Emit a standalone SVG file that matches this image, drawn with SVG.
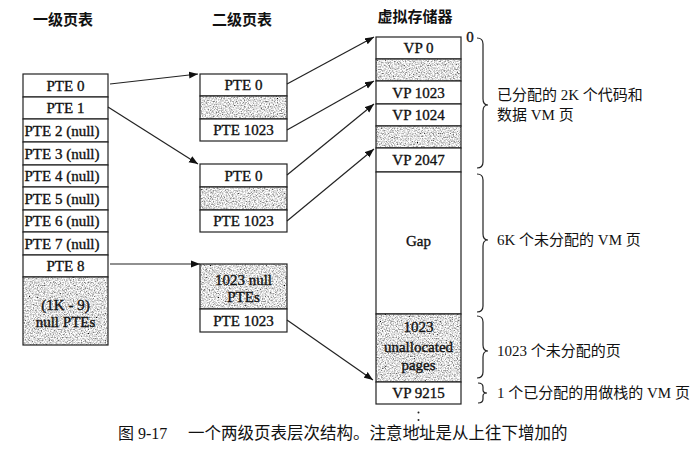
<svg xmlns="http://www.w3.org/2000/svg" width="698" height="467" viewBox="0 0 698 467">
<style>
.cell{fill:#fff;stroke:#222;stroke-width:1.2}
.box{fill:none;stroke:#222;stroke-width:1.2}
.lbl{font-family:"Liberation Serif","Noto Sans CJK SC",serif;font-size:15px;fill:#111;stroke:#111;stroke-width:0.35;text-anchor:middle}
.cjk{font-family:"Liberation Serif","Noto Sans CJK SC",serif;font-size:15px;fill:#111}
.hdr{font-family:"Noto Sans CJK SC",sans-serif;font-size:15px;fill:#111;text-anchor:middle;font-weight:bold}
.conn{stroke:#222;stroke-width:1.2;fill:none;marker-end:url(#ah)}
.brace{stroke:#222;stroke-width:1.2;fill:none}
</style>
<defs>
<marker id="ah" markerWidth="10" markerHeight="8" refX="9" refY="4" orient="auto" markerUnits="userSpaceOnUse">
<path d="M0,0.5 L9,4 L0,7.5 Z" fill="#111"/>
</marker>
<filter id="speckle" filterUnits="objectBoundingBox" x="0" y="0" width="1" height="1">
<feTurbulence type="fractalNoise" baseFrequency="0.75" numOctaves="3" seed="7" result="t"/>
<feColorMatrix in="t" type="matrix" values="2.0 0 0 0 -0.26  2.0 0 0 0 -0.26  2.0 0 0 0 -0.26  0 0 0 0 1" result="g"/>
<feComposite in="g" in2="SourceGraphic" operator="in"/>
</filter>
</defs>
<rect width="698" height="467" fill="#fff"/>

<g id="headers">
<text class="hdr" x="63" y="25">一级页表</text>
<text class="hdr" x="242" y="25">二级页表</text>
<text class="hdr" x="415" y="22">虚拟存储器</text>
</g>

<g id="level1-table">
<rect class="cell" x="23" y="74" width="85" height="23"/>
<text class="lbl" x="65.5" y="90.5">PTE 0</text>
<rect class="cell" x="23" y="97" width="85" height="22"/>
<text class="lbl" x="65.5" y="113">PTE 1</text>
<rect class="cell" x="23" y="119" width="85" height="23"/>
<text class="lbl" x="62" y="135.5">PTE 2 (null)</text>
<rect class="cell" x="23" y="142" width="85" height="23"/>
<text class="lbl" x="62" y="158.5">PTE 3 (null)</text>
<rect class="cell" x="23" y="165" width="85" height="22"/>
<text class="lbl" x="62" y="181">PTE 4 (null)</text>
<rect class="cell" x="23" y="187" width="85" height="23"/>
<text class="lbl" x="62" y="203.5">PTE 5 (null)</text>
<rect class="cell" x="23" y="210" width="85" height="22"/>
<text class="lbl" x="62" y="226">PTE 6 (null)</text>
<rect class="cell" x="23" y="232" width="85" height="23"/>
<text class="lbl" x="62" y="248.5">PTE 7 (null)</text>
<rect class="cell" x="23" y="255" width="85" height="22"/>
<text class="lbl" x="65.5" y="271">PTE 8</text>
<rect x="23" y="277" width="85" height="68" fill="#bbb" filter="url(#speckle)"/>
<rect class="box" x="23" y="277" width="85" height="68"/>
<text class="lbl" x="65.5" y="310">(1K - 9)</text>
<text class="lbl" x="65.5" y="327">null PTEs</text>
</g>

<g id="level2-table-1">
<rect class="cell" x="200" y="74" width="87" height="22"/>
<text class="lbl" x="243.5" y="90">PTE 0</text>
<rect x="200" y="96" width="87" height="23" fill="#bbb" filter="url(#speckle)"/>
<rect class="box" x="200" y="96" width="87" height="23"/>
<rect class="cell" x="200" y="119" width="87" height="22"/>
<text class="lbl" x="243.5" y="135">PTE 1023</text>
</g>

<g id="level2-table-2">
<rect class="cell" x="200" y="164" width="87" height="23"/>
<text class="lbl" x="243.5" y="180.5">PTE 0</text>
<rect x="200" y="187" width="87" height="23" fill="#bbb" filter="url(#speckle)"/>
<rect class="box" x="200" y="187" width="87" height="23"/>
<rect class="cell" x="200" y="210" width="87" height="22"/>
<text class="lbl" x="243.5" y="226">PTE 1023</text>
</g>

<g id="level2-table-3">
<rect x="200" y="264" width="87" height="45" fill="#bbb" filter="url(#speckle)"/>
<rect class="box" x="200" y="264" width="87" height="45"/>
<text class="lbl" x="243.5" y="285">1023 null</text>
<text class="lbl" x="243.5" y="302">PTEs</text>
<rect class="cell" x="200" y="309" width="87" height="23"/>
<text class="lbl" x="243.5" y="325.5">PTE 1023</text>
</g>

<g id="virtual-memory">
<rect class="cell" x="376" y="37" width="85" height="22"/>
<text class="lbl" x="418.5" y="53">VP 0</text>
<rect x="376" y="59" width="85" height="22" fill="#bbb" filter="url(#speckle)"/>
<rect class="box" x="376" y="59" width="85" height="22"/>
<rect class="cell" x="376" y="81" width="85" height="23"/>
<text class="lbl" x="418.5" y="97.5">VP 1023</text>
<rect class="cell" x="376" y="104" width="85" height="22"/>
<text class="lbl" x="418.5" y="120">VP 1024</text>
<rect x="376" y="126" width="85" height="22" fill="#bbb" filter="url(#speckle)"/>
<rect class="box" x="376" y="126" width="85" height="22"/>
<rect class="cell" x="376" y="148" width="85" height="24"/>
<text class="lbl" x="418.5" y="165">VP 2047</text>
<rect class="cell" x="376" y="172" width="85" height="142"/>
<text class="lbl" x="418.5" y="246">Gap</text>
<rect x="376" y="314" width="85" height="68" fill="#bbb" filter="url(#speckle)"/>
<rect class="box" x="376" y="314" width="85" height="68"/>
<text class="lbl" x="418.5" y="332">1023</text>
<text class="lbl" x="418.5" y="352">unallocated</text>
<text class="lbl" x="418.5" y="370">pages</text>
<rect class="cell" x="376" y="382" width="85" height="22"/>
<text class="lbl" x="418.5" y="398">VP 9215</text>
<circle cx="418.5" cy="412.5" r="1" fill="#222"/>
<circle cx="418.5" cy="420" r="1" fill="#222"/>
<circle cx="418.5" cy="427.5" r="1" fill="#222"/>
<text class="lbl" x="470" y="42">0</text>
</g>

<g id="braces">
<path class="brace" d="M477,38 Q483,38 483,44 L483,99 Q483,105 488,105 Q483,105 483,111 L483,162 Q483,168 477,168"/>
<path class="brace" d="M477,174 Q483,174 483,180 L483,234 Q483,240 488,240 Q483,240 483,246 L483,306 Q483,312 477,312"/>
<path class="brace" d="M477,316 Q483,316 483,322 L483,345 Q483,351 488,351 Q483,351 483,357 L483,372 Q483,378 477,378"/>
<path class="brace" d="M478,383 Q483,383 483,387 L483,390 Q483,393 487,393 Q483,393 483,396 L483,399 Q483,403 478,403"/>
</g>

<g id="annotations">
<text class="cjk" x="497" y="100">已分配的 2K 个代码和</text>
<text class="cjk" x="497" y="120">数据 VM 页</text>
<text class="cjk" x="497" y="245">6K 个未分配的 VM 页</text>
<text class="cjk" x="497" y="356">1023 个未分配的页</text>
<text class="cjk" x="497" y="398">1 个已分配的用做栈的 VM 页</text>
</g>

<g id="connectors">
<line class="conn" x1="110" y1="84" x2="198" y2="74"/>
<line class="conn" x1="108" y1="107" x2="198" y2="164"/>
<line class="conn" x1="110" y1="264" x2="200" y2="264"/>
<line class="conn" x1="287" y1="84" x2="374" y2="37"/>
<line class="conn" x1="287" y1="130" x2="374" y2="81"/>
<line class="conn" x1="287" y1="175" x2="374" y2="104"/>
<line class="conn" x1="287" y1="221" x2="374" y2="149"/>
<line class="conn" x1="287" y1="320" x2="373" y2="380"/>
</g>

<g id="caption">
<text class="cjk" x="118" y="439" style="font-size:16px">图 9-17<tspan x="188" style="font-size:16.5px">一个两级页表层次结构。注意地址是从上往下增加的</tspan></text>
</g>
</svg>
